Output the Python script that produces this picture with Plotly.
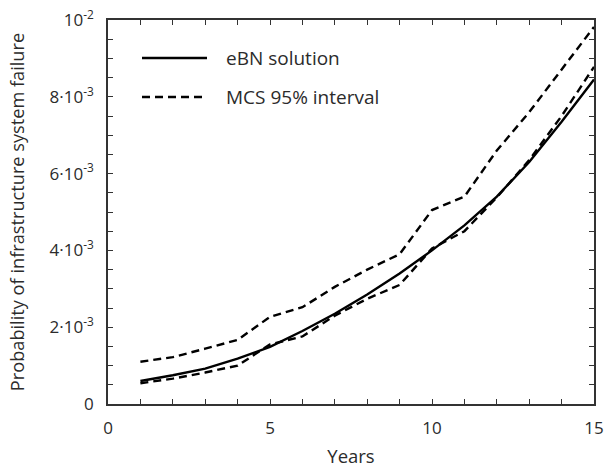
import plotly.graph_objects as go

years = list(range(1, 16))
ebn_solution = [0.60, 0.75, 0.92, 1.18, 1.49, 1.90, 2.35, 2.85, 3.40, 4.00, 4.65, 5.40, 6.30, 7.35, 8.45]
mcs_upper = [1.10, 1.22, 1.44, 1.67, 2.27, 2.52, 3.05, 3.50, 3.90, 5.05, 5.40, 6.60, 7.60, 8.70, 9.82]
mcs_lower = [0.54, 0.66, 0.82, 1.00, 1.55, 1.76, 2.30, 2.74, 3.10, 4.05, 4.50, 5.38, 6.35, 7.50, 8.78]
scale = 1e-3

legend_names = ["eBN solution", "MCS 95% interval"]

x_tickvals = list(range(0, 16))
x_ticktext = [str(v) if v % 5 == 0 else "" for v in x_tickvals]
y_tickvals = [i * 0.5e-3 for i in range(0, 21)]
y_labels = {0: "0", 4: "2·10<sup>-3</sup>", 8: "4·10<sup>-3</sup>", 12: "6·10<sup>-3</sup>",
            16: "8·10<sup>-3</sup>", 20: "10<sup>-2</sup>"}
y_ticktext = [y_labels.get(i, "") for i in range(0, 21)]

FONT = "Open Sans"
TXT = "#2b2b2b"
DASH = "8px,5px"

fig = go.Figure()
fig.add_trace(go.Scatter(x=years, y=[v * scale for v in ebn_solution], mode="lines",
                         name=legend_names[0], line=dict(color="black", width=2.4)))
fig.add_trace(go.Scatter(x=years, y=[v * scale for v in mcs_upper], mode="lines",
                         name=legend_names[1], line=dict(color="black", width=2.4, dash=DASH)))
fig.add_trace(go.Scatter(x=years, y=[v * scale for v in mcs_lower], mode="lines",
                         name=legend_names[1], line=dict(color="black", width=2.4, dash=DASH)))

axis_common = dict(showgrid=False, zeroline=False, showline=True, linecolor="#333",
                   linewidth=1.5, mirror="ticks", ticks="inside", ticklen=5,
                   tickcolor="#333", tickwidth=1.2, tickmode="array", automargin=False,
                   ticklabeloverflow="allow",
                   tickfont=dict(family=FONT, size=17, color=TXT))

W, H = 604, 468
plot_l, plot_r, plot_t, plot_b = 108, 594, 20, 404
def px(xp):
    return (xp - plot_l) / (plot_r - plot_l)
def py(yp):
    return (plot_b - yp) / (plot_b - plot_t)

shapes = [
    dict(type="line", xref="paper", yref="paper", x0=px(142), x1=px(207), y0=py(58), y1=py(58),
         line=dict(color="black", width=2.4)),
    dict(type="line", xref="paper", yref="paper", x0=px(142), x1=px(207), y0=py(97), y1=py(97),
         line=dict(color="black", width=2.4, dash=DASH)),
]
annotations = [
    dict(xref="paper", yref="paper", x=px(224), y=py(58), xanchor="left", yanchor="middle",
         text=legend_names[0], showarrow=False, font=dict(family=FONT, size=19, color=TXT)),
    dict(xref="paper", yref="paper", x=px(224), y=py(97), xanchor="left", yanchor="middle",
         text=legend_names[1], showarrow=False, font=dict(family=FONT, size=19, color=TXT)),
]

fig.update_layout(
    width=W, height=H,
    margin=dict(l=plot_l, r=W - plot_r, t=plot_t, b=H - plot_b),
    paper_bgcolor="white", plot_bgcolor="white",
    showlegend=False,
    shapes=shapes, annotations=annotations,
    xaxis=dict(axis_common, range=[0, 15], tickvals=x_tickvals, ticktext=x_ticktext,
               ticklabelstandoff=8,
               title=dict(text="Years", font=dict(family=FONT, size=18.5, color=TXT), standoff=13)),
    yaxis=dict(axis_common, range=[0, 0.01], tickvals=y_tickvals, ticktext=y_ticktext,
               ticklabelstandoff=9,
               title=dict(text="Probability of infrastructure system failure",
                          font=dict(family=FONT, size=18.2, color=TXT), standoff=20)),
)

# Remove the page's default body margin so the figure fills the window exactly.
fig.write_html("out.html", config={"displayModeBar": False},
               post_script="document.body.style.margin='0';")
